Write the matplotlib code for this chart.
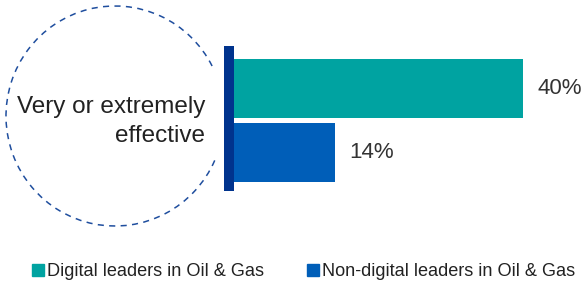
import matplotlib
matplotlib.use('Agg')
from matplotlib import pyplot as plt
from matplotlib.patches import Arc, Patch

# Data
category_lines = ['Very or extremely', 'effective']
series = ['Digital leaders in Oil & Gas', 'Non-digital leaders in Oil & Gas']
values = [40, 14]
colors = ['#00A3A1', '#005EB8']
accent = '#00338D'

plt.rcParams['font.family'] = ['Liberation Sans', 'DejaVu Sans']

W, H = 582, 283
fig = plt.figure(figsize=(W / 100, H / 100), dpi=100)

# Overlay axes in pixel coordinates for circle and label
ov = fig.add_axes([0, 0, 1, 1])
ov.set_xlim(0, W)
ov.set_ylim(H, 0)
ov.axis('off')
arc = Arc((115, 116), 218, 220, theta1=24, theta2=333, color='#1F4E9E',
          lw=1.1, linestyle=(0, (4, 3.5)))
ov.add_patch(arc)
for line, yb in zip(category_lines, [113, 142]):
    ov.text(205, yb, line, ha='right', va='baseline', fontsize=17.5,
            color='#222222')

# Bar axes
left_px, right_px, top_px, bot_px = 224, 582, 46, 191
ax = fig.add_axes([left_px / W, 1 - bot_px / H, (right_px - left_px) / W,
                   (bot_px - top_px) / H])
px_per_pct = 289 / 40
x0 = -10 / px_per_pct
ax.set_xlim(x0, x0 + (right_px - left_px) / px_per_pct)
ylo = (top_px - 88.5) / 64
yhi = (bot_px - 88.5) / 64
ax.set_ylim(yhi, ylo)
ax.axis('off')

ys = list(range(len(values)))
ax.barh(ys, values, height=59 / 64, color=colors, left=0)
ax.bar(x0 / 2, yhi - ylo, bottom=ylo, width=-x0, color=accent)

for v, y, off in zip(values, ys, [14, 14]):
    ax.text(v + off / px_per_pct, y, f'{v}%', va='center', ha='left',
            fontsize=16, color='#333333', clip_on=False)

handles = [Patch(color=c) for c in colors]
fig.legend(handles, series, loc='center left', bbox_to_anchor=(32 / W, 1 - 272 / H),
           ncol=2, frameon=False, fontsize=13.1, handlelength=0.66,
           handleheight=0.66, handletextpad=0.15, columnspacing=2.4,
           borderpad=0, borderaxespad=0, labelcolor='#222222')

plt.savefig('out.png', dpi=100)
